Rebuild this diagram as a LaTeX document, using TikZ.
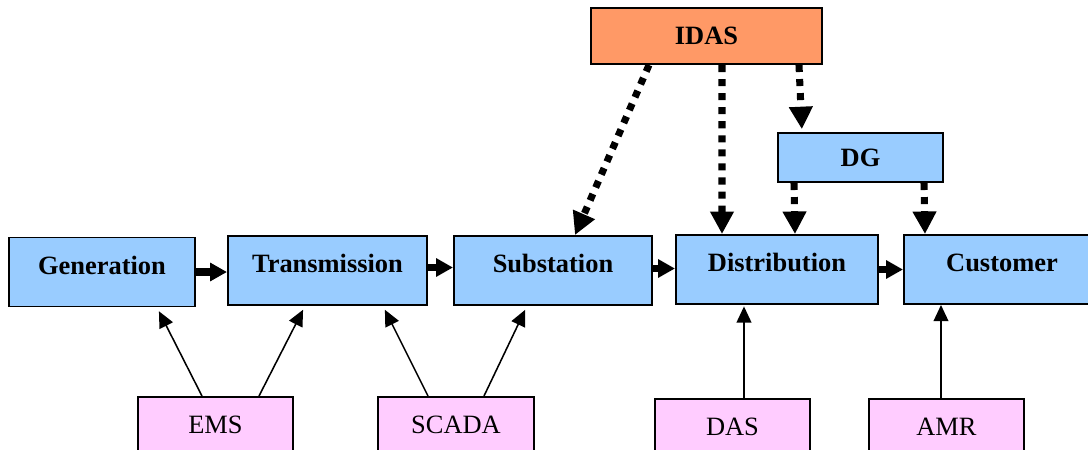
\documentclass[tikz,border=0pt]{standalone}
\usepackage{fontspec}
\setmainfont{Liberation Serif}
\usetikzlibrary{arrows.meta,calc}

\begin{document}
\begin{tikzpicture}[x=0.025cm, y=-0.025cm,
    mainbox/.style={draw, line width=1.4pt, fill=blockblue, inner sep=0pt,
      minimum height=1.725cm, text height=13pt, text depth=10pt,
      font=\fontsize{18.8}{22}\selectfont\bfseries},
    toolbox/.style={mainbox, fill=toolpink, font=\fontsize{18.8}{22}\selectfont},
    flow/.style={line width=5.3pt, -{Triangle[width=12.5pt,length=12pt]}},
    dotflow/.style={line width=5pt, dash pattern=on 5pt off 5pt,
      -{Triangle[width=16pt,length=16pt]}},
    link/.style={line width=1.1pt, -{Triangle[width=10.5pt,length=11.5pt]}}]
  \definecolor{blockblue}{HTML}{99CCFF}
  \definecolor{toolpink}{HTML}{FFCCFF}
  \definecolor{idasorange}{HTML}{FF9966}
  \useasboundingbox (0,0) rectangle (1088,449);

  \node (gen) at (102, 272) [mainbox, minimum width=4.625cm] {Generation};
  \node (trans) at (327.5, 270.5) [mainbox, minimum width=4.975cm] {Transmission};
  \node (sub) at (553, 270.5) [mainbox, minimum width=4.95cm] {Substation};
  \node (dist) at (777, 269.5) [mainbox, minimum width=5.05cm] {Distribution};
  \node (cust) at (1002, 269.5) [mainbox, minimum width=4.9cm] {Customer};

  \node (idas) at (706.5, 36) [mainbox, fill=idasorange, text height=, text depth=,
    minimum width=5.775cm, minimum height=1.4cm] {IDAS};
  \node (dg) at (860.5, 157.5) [mainbox, text height=, text depth=,
    minimum width=4.125cm, minimum height=1.225cm] {DG};

  \node (ems) at (215.5, 431.5) [toolbox, minimum width=3.875cm] {EMS};
  \node (scada) at (456, 431.5) [toolbox, minimum width=3.875cm] {SCADA};
  \node (das) at (732.5, 433.5) [toolbox, minimum width=3.875cm] {DAS};
  \node (amr) at (946.5, 433.5) [toolbox, minimum width=3.875cm] {AMR};

  % power flow
  \draw[flow] (gen.east) -- (gen.east -| trans.west);
  \draw[flow] ($(trans.east)+(0,-3)$) -- ($(trans.east -| sub.west)+(0,-3)$);
  \draw[flow] ($(sub.east)+(0,-2)$) -- ($(sub.east -| dist.west)+(0,-2)$);
  \draw[flow] (dist.east) -- (dist.east -| cust.west);

  % IDAS links
  \draw[dotflow] ($(idas.south)+(-57.5,0)$) -- ($(sub.north)+(22,0)$);
  \draw[dotflow] ($(idas.south)+(15.5,0)$) -- ($(dist.north)+(-55,0)$);
  \draw[dotflow, shorten >=2pt] ($(idas.south)+(92.5,0)$) -- ($(dg.north)+(-58.5,0)$);
  \draw[dotflow] ($(dg.south)+(-66.5,0)$) -- ($(dist.north)+(18,0)$);
  \draw[dotflow] ($(dg.south)+(63.5,0)$) -- ($(cust.north)+(-77,0)$);

  % control systems
  \draw[link, shorten >=3pt] ($(ems.north)+(-13.5,0)$) -- ($(gen.south)+(55,0)$);
  \draw[link, shorten >=3pt] ($(ems.north)+(43.5,0)$) -- ($(trans.south)+(-22.5,0)$);
  \draw[link, shorten >=3pt] ($(scada.north)+(-28,0)$) -- ($(trans.south)+(55.5,0)$);
  \draw[link, shorten >=3pt] ($(scada.north)+(28,0)$) -- ($(sub.south)+(-26,0)$);
  \draw[link, shorten >=1pt] ($(das.north)+(11.5,0)$) -- ($(dist.south)+(-33,0)$);
  \draw[link] ($(amr.north)+(-5.5,0)$) -- ($(cust.south)+(-61,0)$);
\end{tikzpicture}
\end{document}
